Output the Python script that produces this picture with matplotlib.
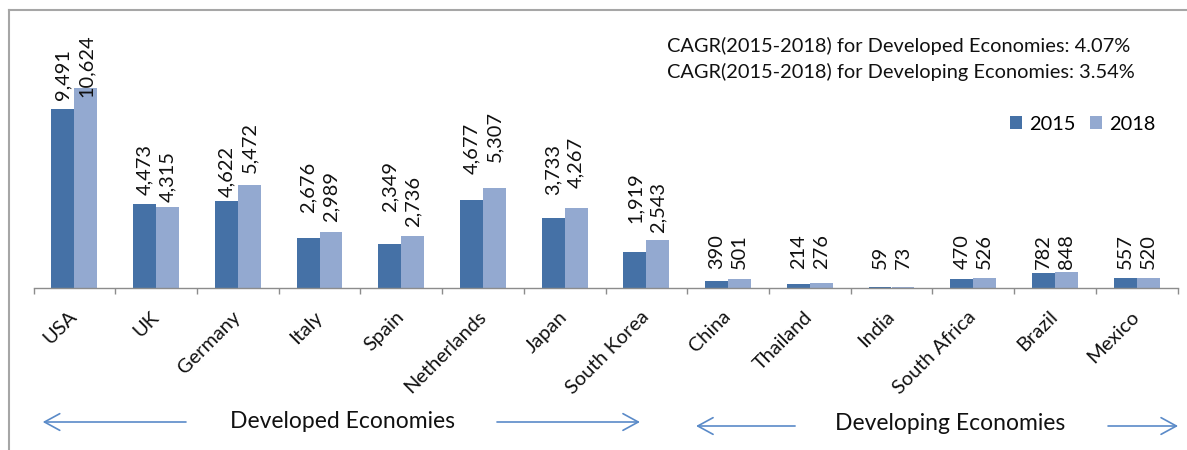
import matplotlib
matplotlib.use("Agg")
import matplotlib.pyplot as plt
import numpy as np
from matplotlib.transforms import blended_transform_factory, offset_copy
from matplotlib.patches import Patch
from matplotlib.lines import Line2D

# ---------------- data ----------------
countries = ["USA", "UK", "Germany", "Italy", "Spain", "Netherlands", "Japan",
             "South Korea", "China", "Thailand", "India", "South Africa",
             "Brazil", "Mexico"]
vals_2015 = [9491, 4473, 4622, 2676, 2349, 4677, 3733, 1919,
             390, 214, 59, 470, 782, 557]
vals_2018 = [10624, 4315, 5472, 2989, 2736, 5307, 4267, 2543,
             501, 276, 73, 526, 848, 520]
series_names = ["2015", "2018"]
n_developed = 8
cagr_lines = ["CAGR(2015-2018) for Developed Economies: 4.07%",
              "CAGR(2015-2018) for Developing Economies: 3.54%"]
group_names = ["Developed Economies", "Developing Economies"]

# ---------------- style / layout ----------------
C15 = "#4571A6"
C18 = "#93A9D0"
AXC = "#8C8C8C"
ARC = "#5A8AC8"
TXT = "#111111"
FONT = ["Lato", "DejaVu Sans"]
FS = 14.4
# label gaps above bar top (pixels) for the developed economies (Excel hand-placed labels)
gap15_px = [9, 9, 4, 25, 32, 26, 23, 29]
gap18_px = [-9, 5, 12, 10, 9.5, 26, 20, 7]
label_floor = 1000  # developing-economy labels sit at a common height

plt.rcParams['font.family'] = FONT

W, H = 1187, 450
fig = plt.figure(figsize=(W / 100, H / 100), dpi=100)
ax_left, ax_right = 33.5, 1177.5
ax_bottom_px, ax_top_px = 288, 20
ax = fig.add_axes([ax_left / W, 1 - ax_bottom_px / H,
                   (ax_right - ax_left) / W, (ax_bottom_px - ax_top_px) / H])

x = np.arange(len(countries))
bw = 0.28
ax.bar(x - bw / 2, vals_2015, width=bw, color=C15, linewidth=0, label=series_names[0])
ax.bar(x + bw / 2, vals_2018, width=bw, color=C18, linewidth=0, label=series_names[1])

ax.set_xlim(-0.5, len(countries) - 0.5)
ax.set_ylim(0, 14236)

# data labels
for i in range(len(countries)):
    for off, vals, gaps in ((-bw / 2, vals_2015, gap15_px), (bw / 2, vals_2018, gap18_px)):
        v = vals[i]
        if i < n_developed:
            tr = offset_copy(ax.transData, fig=fig, x=0, y=gaps[i] * 0.72, units='points')
            yv = v
        else:
            tr = ax.transData
            yv = max(v, label_floor)
        ax.text(x[i] + off, yv, f"{v:,}", rotation=90, ha='center', va='bottom',
                fontsize=FS, color=TXT, transform=tr)

# axes styling
for s in ["left", "right", "top"]:
    ax.spines[s].set_visible(False)
ax.spines["bottom"].set_color(AXC)
ax.spines["bottom"].set_linewidth(1.0)
ax.set_yticks([])
ax.set_xticks(x)
ax.set_xticklabels(countries)
ax.set_xticks(np.arange(-0.5, len(countries)), minor=True)
ax.tick_params(axis='x', which='major', length=0, pad=18.7, labelsize=FS, labelcolor=TXT)
ax.tick_params(axis='x', which='minor', length=4.5, width=1.0, color=AXC, direction='out')
for lab in ax.get_xticklabels():
    lab.set_rotation(45)
    lab.set_ha('right')
    lab.set_va('center')
    lab.set_rotation_mode('anchor')

# legend
handles = [Patch(facecolor=C15, edgecolor='none'), Patch(facecolor=C18, edgecolor='none')]
fig.legend(handles, series_names, loc='center right', bbox_to_anchor=(1163 / W, 1 - 124 / H),
           ncol=2, frameon=False, fontsize=FS, handlelength=0.6, handleheight=0.6,
           handletextpad=0.35, columnspacing=0.7, borderaxespad=0)

# CAGR texts
for k, line in enumerate(cagr_lines):
    fig.text(667 / W, 1 - (46 + 26 * k) / H, line, ha='left', va='center',
             fontsize=FS, color=TXT)

# group arrows and labels
btr = blended_transform_factory(ax.transData, fig.transFigure)
arrow_specs = [  # (tail_x, tip_x, y_px)
    (1.366, -0.387, 422), (5.172, 6.922, 422),
    (8.820, 7.608, 426), (12.65, 13.507, 426),
]
for tail, tip, ypx in arrow_specs:
    yy = 1 - ypx / H
    ax.annotate("", xy=(tip, yy), xytext=(tail, yy), xycoords=btr, textcoords=btr,
                annotation_clip=False,
                arrowprops=dict(arrowstyle="->,head_length=1.1,head_width=0.6",
                                color=ARC, lw=1.2, mutation_scale=10,
                                shrinkA=0, shrinkB=0))
ax.text(3.277, 1 - 421 / H, group_names[0], transform=btr, ha='center', va='center',
        fontsize=16.5, color=TXT)
ax.text(10.716, 1 - 424 / H, group_names[1], transform=btr, ha='center', va='center',
        fontsize=16.5, color=TXT)

# chart border (left and top edges visible)
fig.add_artist(Line2D([9 / W, 9 / W], [0, 1 - 9.5 / H], transform=fig.transFigure,
                      color="#A6A6A6", lw=1.5))
fig.add_artist(Line2D([9 / W, 1], [1 - 9.5 / H, 1 - 9.5 / H], transform=fig.transFigure,
                      color="#A6A6A6", lw=1.5))

fig.savefig("out.png", dpi=100)
